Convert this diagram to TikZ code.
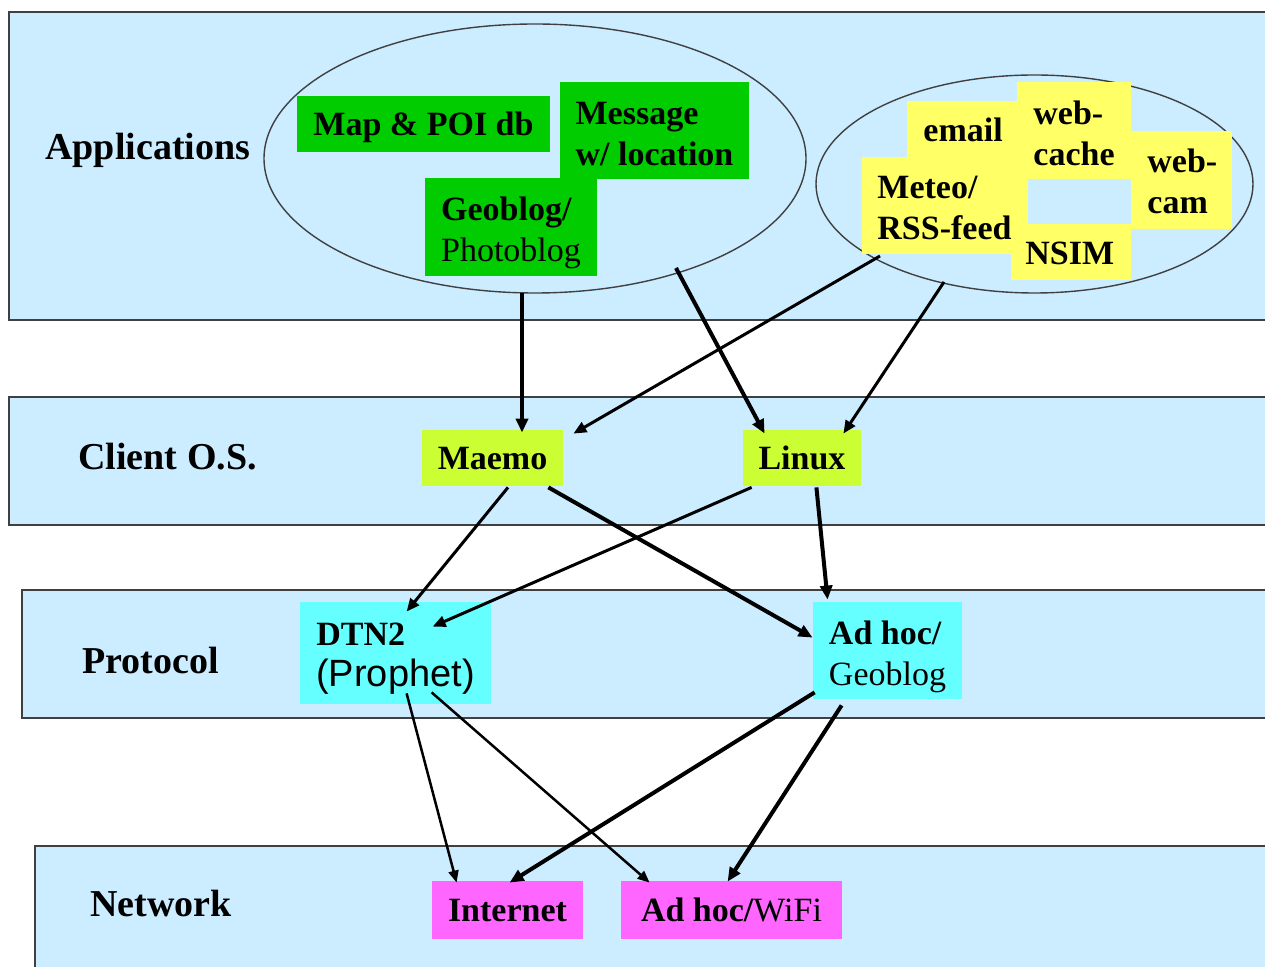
\documentclass[tikz,border=0pt]{standalone}
\usepackage{fontspec}
\setmainfont{Liberation Serif}
\newfontfamily\arialfont{Liberation Sans}
\usetikzlibrary{arrows.meta}
\definecolor{bandblue}{RGB}{204,236,255}
\definecolor{appgreen}{RGB}{0,204,0}
\definecolor{appyellow}{RGB}{255,255,102}
\definecolor{oslime}{RGB}{204,255,51}
\definecolor{protocyan}{RGB}{102,255,255}
\definecolor{netpink}{RGB}{255,102,255}
\definecolor{edgegray}{RGB}{64,64,64}
\newcommand{\lowertext}[2]{\raisebox{-#1}[\height][\depth]{#2}}
\begin{document}
\begin{tikzpicture}[x=0.5pt,y=-0.5pt,
  band/.style={fill=bandblue,draw=edgegray,line width=0.8pt},
  cluster/.style={draw=edgegray,line width=0.7pt},
  box/.style={rectangle,inner sep=0pt,font=\fontsize{17}{20.5}\selectfont\bfseries},
  onebox/.style={box,text height=11.5pt,text depth=0pt},
  lbl/.style={anchor=base west,inner sep=0pt,font=\fontsize{19}{22}\selectfont\bfseries},
  ytext/.style={anchor=base west,inner sep=0pt,font=\fontsize{17}{20.5}\selectfont\bfseries},
  thk/.style={line width=2pt,-{Triangle[length=7pt,width=6pt]}},
  med/.style={line width=1.5pt,-{Triangle[length=6.5pt,width=5.5pt]}},
  thn/.style={line width=1.25pt,-{Triangle[length=6pt,width=5pt]}},
]
\useasboundingbox (0,0) rectangle (1265,967);
% layer bands
\path[band] (9,12) rectangle (1290,320);
\path[band] (9,397) rectangle (1290,525);
\path[band] (22,590) rectangle (1290,718);
\path[band] (35,846) rectangle (1290,990);
% layer labels
\node[lbl] (lapp) at (45,160) {Applications};
\node[lbl] (los) at (78,470) {Client O.S.};
\node[lbl] (lproto) at (82,674) {Protocol};
\node[lbl] (lnet) at (90,917) {Network};
% application clusters
\draw[cluster] (535,158.5) ellipse [x radius=135.5pt, y radius=67.25pt];
\draw[cluster] (1034.5,184) ellipse [x radius=109.25pt, y radius=54.5pt];
% green applications
\node[onebox,fill=appgreen,minimum width=126.5pt,minimum height=28pt] (map) at (423.5,124) {Map \& POI db};
\node[box,fill=appgreen,minimum width=94.5pt,minimum height=48.5pt] (msg) at (654.5,130.5)
  {\lowertext{3pt}{\begin{tabular}{@{}l@{}}Message\\w/ location\end{tabular}}};
\node[box,fill=appgreen,minimum width=86pt,minimum height=49pt] (geo) at (511,227)
  {\lowertext{3pt}{\begin{tabular}{@{}l@{}}Geoblog/\\\mdseries Photoblog\end{tabular}}};
% yellow applications
\fill[appyellow] (907,101) rectangle (1018,180);
\fill[appyellow] (1017,82) rectangle (1131,179);
\fill[appyellow] (862,157) rectangle (1028,254);
\fill[appyellow] (1011,224) rectangle (1131,280);
\fill[appyellow] (1131,131) rectangle (1232,229);
\node[ytext] (email) at (923,142) {email};
\node[ytext] (webcache) at (1033,125) {\begin{tabular}[t]{@{}l@{}}web-\\cache\end{tabular}};
\node[ytext] (webcam) at (1147,173) {\begin{tabular}[t]{@{}l@{}}web-\\cam\end{tabular}};
\node[ytext] (meteo) at (877,199) {\begin{tabular}[t]{@{}l@{}}Meteo/\\RSS-feed\end{tabular}};
\node[ytext] (nsim) at (1025,265) {NSIM};
% client OS
\node[onebox,fill=oslime,minimum width=70.5pt,minimum height=28pt] (maemo) at (492.5,458) {Maemo};
\node[onebox,fill=oslime,minimum width=59pt,minimum height=28pt] (linux) at (802,458) {Linux};
% protocol
\node[box,fill=protocyan,minimum width=95.5pt,minimum height=51pt] (dtn) at (395.5,653)
  {\lowertext{2.5pt}{\begin{tabular}{@{}l@{}}DTN2\\{\arialfont\mdseries\fontsize{19}{20}\selectfont (Prophet)}\end{tabular}}};
\node[box,fill=protocyan,minimum width=74.5pt,minimum height=48.5pt] (adhoc) at (887.5,650.5)
  {\lowertext{3pt}{\begin{tabular}{@{}l@{}}Ad hoc/\\\mdseries Geoblog\end{tabular}}};
% network
\node[onebox,fill=netpink,minimum width=75.5pt,minimum height=29pt] (inet) at (507.5,910) {Internet};
\node[onebox,fill=netpink,minimum width=110.5pt,minimum height=29pt] (wifi) at (731.5,910) {Ad hoc/{\mdseries WiFi}};
% connector start points on the clusters
\coordinate (s1) at (522,293);
\coordinate (s2) at (676,268);
\coordinate (s3) at (880,256);
\coordinate (s4) at (944,282);
% connectors
\draw[thk] (s1) -- ([shift={(29.5,3)}]maemo.north);
\draw[thk] (s2) -- ([shift={(22,4)}]linux.north west);
\draw[med] (s3) -- ([shift={(10,4)}]maemo.north east);
\draw[med] (s4) -- ([shift={(-18,4)}]linux.north east);
\draw[med] ([shift={(15.5,1)}]maemo.south) -- ([shift={(107,10)}]dtn.north west);
\draw[med] ([shift={(9,1)}]linux.south west) -- ([shift={(133,25)}]dtn.north west);
\draw[thk] ([shift={(-15,1)}]maemo.south east) -- ([shift={(0,36)}]adhoc.north west);
\draw[thk] ([shift={(-45,1)}]linux.south east) -- ([shift={(15,-2)}]adhoc.north west);
\draw[thn] ([shift={(107,-11)}]dtn.south west) -- ([shift={(25,2)}]inet.north west);
\draw[thn] ([shift={(132,-12)}]dtn.south west) -- ([shift={(29,2)}]wifi.north west);
\draw[thk] ([shift={(2,-7)}]adhoc.south west) -- ([shift={(78,2)}]inet.north west);
\draw[thk] ([shift={(29,6)}]adhoc.south west) -- ([shift={(107,1)}]wifi.north west);
\end{tikzpicture}
\end{document}
